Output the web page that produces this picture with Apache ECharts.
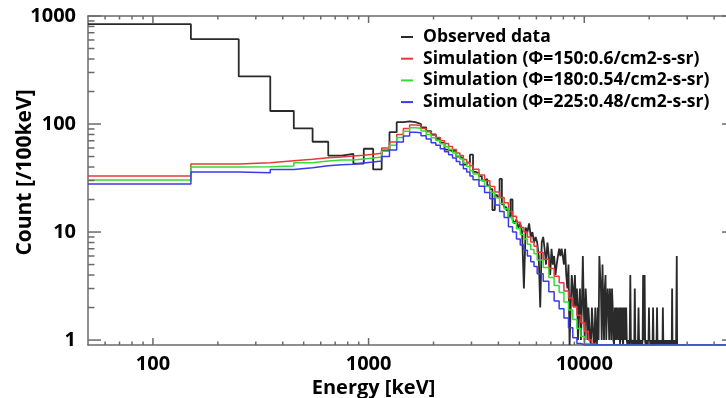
<!DOCTYPE html>
<html><head><meta charset="utf-8">
<script src="https://cdn.jsdelivr.net/npm/echarts@6/dist/echarts.min.js"></script>
<style>html,body{margin:0;padding:0;background:#fff}#c{width:726px;height:398px}</style>
</head><body><div id="c"></div>
<script>
// ---------------- DATA ----------------
const xMajorTicks = [100, 1000, 10000];
const yMajorTicks = [1, 10, 100, 1000];
const xMinorTicks = [60,70,80,90,200,300,400,500,600,700,800,900,2000,3000,4000,5000,6000,7000,8000,9000,20000,30000,40000];
const yMinorTicks = [2,3,4,5,6,7,8,9,20,30,40,50,60,70,80,90,200,300,400,500,600,700,800,900];

const seriesNames = [
  'Observed data',
  'Simulation (\u03A6=150:0.6/cm2-s-sr)',
  'Simulation (\u03A6=180:0.54/cm2-s-sr)',
  'Simulation (\u03A6=225:0.48/cm2-s-sr)'
];

// Observed data: 100 keV bins starting at 50 keV
const obsBinStart = 50;
const obsBinWidth = 100;
const obsCounts = [
  840, 610, 276, 132, 91, 68.5, 51, 53, 43, 59,
  38, 57, 84, 104, 106, 104, 100, 93, 86, 80,
  73, 67, 58, 56, 57, 50, 48, 42, 44, 52,
  36, 35, 33, 30, 31, 27, 25, 16, 22, 21,
  31, 18, 17, 16, 14, 20, 13, 12, 13, 11,
  12, 10, 3, 11, 10, 12, 9, 10, 8, 9,
  8, 6, 2, 8, 9, 7, 5, 8, 6, 4,
  7, 5, 6, 4, 5, 6, 7, 6, 7, 6,
  5, 7, 4, 3, 5, 0, 2, 4, 3, 2,
  4, 2, 3, 1, 2, 3, 1, 2, 6, 2,
  1, 3, 2, 1, 2, 2, 1, 0, 2, 2,
  1, 0, 2, 1, 0, 2, 1, 6, 4, 3,
  1, 5, 2, 1, 3, 4, 1, 2, 3, 2,
  1, 3, 2, 1, 3, 2, 1, 0, 2, 1,
  2, 1, 2, 2, 1, 2, 0, 2, 1, 2,
  1, 0, 2, 1, 2, 1, 2, 1, 0, 1,
  1, 0, 1, 4, 1, 0, 1, 1, 0, 1,
  0, 3, 1, 0, 1, 1, 0, 1, 2, 1,
  0, 1, 1, 0, 1, 0, 1, 4, 1, 2,
  4, 1, 0, 1, 1, 0, 1, 1, 0, 2,
  1, 0, 1, 1, 0, 1, 0, 1, 2, 1,
  0, 1, 1, 0, 1, 0, 1, 2, 1, 0,
  1, 1, 0, 1, 0, 0, 1, 1, 0, 1,
  0, 2, 1, 0, 1, 0, 1, 0, 0, 1,
  1, 0, 0, 1, 0, 0, 1, 0, 1, 0,
  0, 1, 0, 1, 0, 3, 0, 1, 0, 0,
  1, 0, 0, 1, 0, 1, 0, 0, 6, 0
];

// Simulation bin edges (keV)
const simEdges = [
  50,150,250,350,450,550,650,750,850,950,1050,1150,1250,1350,1450,1550,1650,1750,1850,1950,
  2050,2150,2250,2350,2450,2550,2650,2750,2850,2950,3050,
  3250,3450,3650,3850,4050,4250,4450,4650,4850,5050,5250,5450,5650,5850,6050,
  6450,6850,7250,7650,8050,8450,8850,9250,9650,10050,10450,10850,11250,11650,12050,
  50000
];
const simRed = [
  33, 42.6, 43.8, 45.7, 47.1, 48.8, 49.5, 50.5, 51.5, 52.5,
  53.5, 60, 68, 80, 91, 98, 97, 91, 85, 79,
  75, 70, 66, 62, 58, 54, 51, 47, 44, 41,
  38.2, 33.7, 29.8, 26.4, 23.5, 20.9, 18.7, 15.5, 14, 12.3, 11, 10, 9, 8.1, 7.4,
  6.5, 5.6, 4.6, 3.9, 3.4, 2.85, 2.45, 2.05, 1.7, 1.45, 1.2, 1.0, 0.92, 0, 0,
  0
];
const simGreen = [
  30.3, 40, 40.2, 40.9, 43.8, 45.5, 46.5, 46.5, 47.5, 48.5,
  49.5, 56, 63.5, 75, 85.5, 92.5, 91.5, 86, 80, 74.5,
  70.5, 65.5, 61.5, 58, 54, 50.5, 47.5, 43.5, 40.5, 37,
  34.4, 30.2, 26.6, 23.4, 20.8, 18.4, 16.4, 13.6, 12.2, 10.7, 9.5, 8.6, 7.7, 6.9, 6.3,
  5.5, 4.7, 3.8, 3.2, 2.75, 2.25, 1.9, 1.55, 1.28, 1.08, 0.93, 0, 0, 0, 0,
  0
];
const simBlue = [
  27.8, 36, 35.4, 38, 39.4, 41, 42, 42.4, 43.5, 44.5,
  45.5, 50, 57.5, 68, 77.5, 84, 83, 78, 72.5, 67,
  63.5, 59, 55.5, 52, 48.5, 45, 42, 38.5, 36, 33,
  30.5, 26.6, 23.2, 20.3, 17.8, 15.5, 13.6, 11.2, 10, 8.6, 7.6, 6.8, 6.0, 5.3, 4.8,
  4.1, 3.5, 2.8, 2.3, 1.95, 1.6, 1.3, 1.05, 0.93, 0, 0, 0, 0, 0, 0,
  0
];

// ---------------- CHART ----------------
const X_MIN = 50, X_MAX = 50000, Y_MIN = 0.9, Y_MAX = 1000;
const AXIS_COLOR = '#6a6a6a';
const FONT = 'Open Sans';

function floorZero(v) { return v > 0 ? v : Y_MIN; }
function stepData(edges, values) {
  return edges.map((e, i) => [e, floorZero(values[Math.min(i, values.length - 1)])]);
}
const obsEdges = [];
for (let i = 0; i <= obsCounts.length; i++) obsEdges.push(obsBinStart + obsBinWidth * i);

const chart = echarts.init(document.getElementById('c'), null, {renderer: 'canvas'});

function makeAxis(isX, pos, labelValues) {
  const ax = {
    type: 'log', logBase: 10, position: pos,
    min: isX ? X_MIN : Y_MIN, max: isX ? X_MAX : Y_MAX,
    splitLine: {show: false},
    axisLine: {show: true, onZero: false, lineStyle: {color: AXIS_COLOR, width: 1.5}},
    axisTick: {show: false},
    minorTick: {show: false},
    axisLabel: {show: false},
    nameMoveOverlap: false
  };
  if (labelValues) {
    ax.axisLabel = {
      show: true, customValues: labelValues,
      fontFamily: FONT, fontWeight: 'bold', fontSize: 20, color: '#000',
      margin: isX ? 9 : 12,
      formatter: v => String(Math.round(v))
    };
  }
  return ax;
}

const xBottom = Object.assign(makeAxis(true, 'bottom', xMajorTicks), {
  name: 'Energy [keV]', nameLocation: 'middle', nameGap: 33.5,
  nameTextStyle: {fontFamily: FONT, fontWeight: 'bold', fontSize: 20, color: '#000', padding: [0, 76, 0, 0]}
});
const xTop = makeAxis(true, 'top', null);
const yLeft = Object.assign(makeAxis(false, 'left', yMajorTicks), {
  name: 'Count [/100keV]', nameLocation: 'middle', nameGap: 52,
  nameTextStyle: {fontFamily: FONT, fontWeight: 'bold', fontSize: 21, color: '#000', padding: [0, 0, 0, 16]}
});
const yRight = makeAxis(false, 'right', null);

const colors = ['#2a2a2a', '#e8383a', '#36dc36', '#3a3ae6'];
function stepSeries(name, data, color, width) {
  return {
    name, type: 'line', step: 'end', data, showSymbol: false, symbol: 'none',
    xAxisIndex: 0, yAxisIndex: 0, clip: true, animation: false,
    lineStyle: {color, width}, itemStyle: {color}
  };
}

chart.setOption({
  backgroundColor: '#fff',
  animation: false,
  grid: {left: 88, top: 16, width: 647, height: 329, containLabel: false, outerBoundsMode: 'none'},
  xAxis: [xBottom, xTop],
  yAxis: [yLeft, yRight],
  legend: {
    data: seriesNames, orient: 'vertical', left: 396, top: 22,
    icon: 'rect', itemWidth: 12, itemHeight: 2, itemGap: 1.7,
    textStyle: {fontFamily: FONT, fontWeight: 'bold', fontSize: 17.5, color: '#000', lineHeight: 20, padding: [0, 0, 0, 5]}
  },
  series: [
    stepSeries(seriesNames[0], stepData(obsEdges, obsCounts), colors[0], 1.8),
    stepSeries(seriesNames[1], stepData(simEdges, simRed), colors[1], 1.5),
    stepSeries(seriesNames[2], stepData(simEdges, simGreen), colors[2], 1.5),
    stepSeries(seriesNames[3], stepData(simEdges, simBlue), colors[3], 1.5)
  ]
});

// Tick marks on all four sides, positioned through the chart's own axes
(function addTicks() {
  const els = [];
  const st = {stroke: AXIS_COLOR, lineWidth: 1.5};
  const toPx = (x, y) => chart.convertToPixel({gridIndex: 0}, [x, y]);
  function xTicks(list, len) {
    list.forEach(v => {
      const b = toPx(v, Y_MIN), t = toPx(v, Y_MAX);
      els.push({type: 'line', silent: true, z: 5, shape: {x1: b[0], y1: b[1], x2: b[0], y2: b[1] - len}, style: st});
      els.push({type: 'line', silent: true, z: 5, shape: {x1: t[0], y1: t[1], x2: t[0], y2: t[1] + len}, style: st});
    });
  }
  function yTicks(list, len) {
    list.forEach(v => {
      const l = toPx(X_MIN, v), r = toPx(X_MAX, v);
      els.push({type: 'line', silent: true, z: 5, shape: {x1: l[0], y1: l[1], x2: l[0] + len, y2: l[1]}, style: st});
      els.push({type: 'line', silent: true, z: 5, shape: {x1: r[0], y1: r[1], x2: r[0] - len, y2: r[1]}, style: st});
    });
  }
  xTicks(xMajorTicks, 7);
  xTicks(xMinorTicks, 3.5);
  yTicks(yMajorTicks, 13);
  yTicks(yMinorTicks, 6.5);
  chart.setOption({graphic: {elements: els}});
})();
</script>
</body></html>
